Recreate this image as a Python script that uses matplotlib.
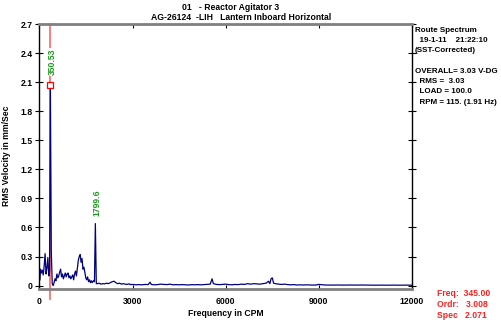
import matplotlib
matplotlib.use("Agg")
import matplotlib.pyplot as plt

# spectrum (CPM, mm/Sec)
freq = [15, 30, 60, 90, 120, 150, 180, 210, 240, 270, 300, 325, 350.53, 380, 410, 440,
        470, 500, 530, 560, 590, 620, 650, 680, 710, 740, 770, 800, 830, 860, 890,
        920, 950, 980, 1010, 1040, 1070, 1100, 1130, 1160, 1190, 1220, 1250, 1280,
        1310, 1340, 1370, 1400, 1430, 1460, 1490, 1520, 1550, 1580, 1610, 1640,
        1670, 1700, 1740, 1770, 1799.6, 1830, 1860, 1920, 1980, 2040, 2100, 2160,
        2220, 2280, 2340, 2400, 2460, 2520, 2580, 2640, 2700, 2760, 2820, 2880,
        2940, 3000, 3100, 3200, 3300, 3400, 3500, 3560, 3600, 3700, 3800, 3900,
        4000, 4100, 4200, 4300, 4400, 4500, 4600, 4700, 4800, 4900, 5000, 5100,
        5200, 5300, 5400, 5500, 5560, 5600, 5700, 5800, 5900, 6000, 6100, 6200,
        6300, 6400, 6500, 6600, 6700, 6800, 6900, 7000, 7100, 7200, 7300, 7380,
        7420, 7460, 7500, 7540, 7600, 7700, 7800, 7900, 8000, 8100, 8200, 8300,
        8400, 8500, 8600, 8700, 8800, 8900, 9000, 9200, 9400, 9600, 9800, 10000,
        10200, 10400, 10600, 10800, 11000, 11200, 11400, 11600, 11800, 12000]
amp = [0.06, 0.17, 0.13, 0.16, 0.11, 0.20, 0.33, 0.12, 0.18, 0.29, 0.10, 0.15, 2.071, 0.35, 0.02, 0.0,
       0.03, 0.07, 0.05, 0.12, 0.08, 0.10, 0.14, 0.17, 0.09, 0.12, 0.07, 0.10, 0.13, 0.09, 0.12,
       0.13, 0.08, 0.10, 0.07, 0.09, 0.11, 0.06, 0.12, 0.15, 0.10, 0.18, 0.26, 0.30,
       0.32, 0.24, 0.28, 0.17, 0.19, 0.14, 0.08, 0.06, 0.09, 0.04, 0.06, 0.03,
       0.05, 0.03, 0.05, 0.04, 0.64, 0.02, 0.02, 0.025, 0.015, 0.02, 0.018, 0.025,
       0.02, 0.03, 0.04, 0.045, 0.03, 0.02, 0.025, 0.015, 0.02, 0.015, 0.012, 0.018,
       0.01, 0.012, 0.008, 0.01, 0.008, 0.012, 0.01, 0.035, 0.012, 0.008, 0.01, 0.015,
       0.012, 0.01, 0.015, 0.008, 0.01, 0.008, 0.01, 0.008, 0.006, 0.01, 0.008, 0.01,
       0.008, 0.01, 0.012, 0.015, 0.07, 0.02, 0.012, 0.01, 0.012, 0.015, 0.01, 0.008,
       0.012, 0.01, 0.015, 0.012, 0.02, 0.015, 0.02, 0.018, 0.015, 0.02, 0.025, 0.045,
       0.02, 0.07, 0.08, 0.025, 0.02, 0.015, 0.012, 0.015, 0.01, 0.008, 0.01, 0.006,
       0.008, 0.006, 0.008, 0.006, 0.005, 0.006, 0.012, 0.006, 0.005, 0.006, 0.005, 0.006,
       0.005, 0.006, 0.005, 0.004, 0.005, 0.004, 0.005, 0.004, 0.005, 0.004]

peaks = [350.53, 1799.6]
peak_amp = [2.071, 0.64]
cursor = 345.0
xticks = [0, 3000, 6000, 9000, 12000]
yticks = [0, 0.3, 0.6, 0.9, 1.2, 1.5, 1.8, 2.1, 2.4, 2.7]
ylabels = ["0", "0.3", "0.6", "0.9", "1.2", "1.5", "1.8", "2.1", "2.4", "2.7"]

plt.rcParams['font.family'] = ['Liberation Sans', 'DejaVu Sans']
plt.rcParams['font.weight'] = 'bold'
plt.rcParams['axes.labelweight'] = 'bold'
plt.rcParams['font.size'] = 6.2

W, H = 502, 325
fig = plt.figure(figsize=(W / 100, H / 100), dpi=100)
ax = fig.add_axes([39.5 / W, 1 - 288.5 / H, (412 - 39.5) / W, (288.5 - 24) / H])

ax.plot([cursor, cursor], [-0.14, 2.7], color='#ff7070', lw=1.3, clip_on=False, zorder=1)
ax.plot(freq, amp, color='#000080', lw=0.9, zorder=2)
ax.plot(peaks[0], peak_amp[0], 's', ms=4, mfc='white', mec='red', mew=0.9, zorder=3)
ax.text(peaks[0] + 50, peak_amp[0] + 0.1, "350.53", rotation=90, color='#1a9a1a',
        ha='center', va='bottom',
        bbox=dict(fc='white', ec='none', pad=0.3), zorder=4)
ax.text(peaks[1] + 40, peak_amp[1] + 0.08, "1799.6", rotation=90, color='#1a9a1a',
        ha='center', va='bottom', zorder=4)

ax.set_xlim(0, 12000)
ax.set_ylim(-0.03, 2.7)
ax.set_xticks(xticks)
ax.set_xticklabels([str(t) for t in xticks])
ax.set_yticks(yticks)
ax.set_yticklabels(ylabels)
ax.tick_params(axis='x', direction='in', top=True, length=3, width=0.8, pad=6)
ax.tick_params(axis='y', direction='inout', right=True, length=6, width=0.8, pad=2)
for s in ['top', 'bottom']:
    ax.spines[s].set_color('#808080')
    ax.spines[s].set_linewidth(2)
for s in ['left', 'right']:
    ax.spines[s].set_linewidth(1)
ax.set_xlabel("Frequency in CPM", labelpad=2)
ax.set_ylabel("RMS Velocity in mm/Sec", labelpad=7)

def ftext(x, y, s, **kw):
    fig.text(x / W, 1 - y / H, s, va='center', **kw)

ftext(231, 7, "01   - Reactor Agitator 3", ha='center')
ftext(241, 17.5, "AG-26124  -LIH   Lantern Inboard Horizontal", ha='center')

right = ["Route Spectrum", "  19-1-11    21:22:10", "(SST-Corrected)", "",
         "OVERALL= 3.03 V-DG", "  RMS =  3.03", "  LOAD = 100.0", "  RPM = 115. (1.91 Hz)"]
for i, s in enumerate(right):
    ftext(415, 30 + i * 10.3, s, ha='left', fontsize=5.8)

info = ["Freq:  345.00", "Ordr:   3.008", "Spec   2.071"]
for i, s in enumerate(info):
    ftext(437, 294 + i * 10.5, s, ha='left', color='#ff2020')

fig.savefig("out.png", dpi=100)
